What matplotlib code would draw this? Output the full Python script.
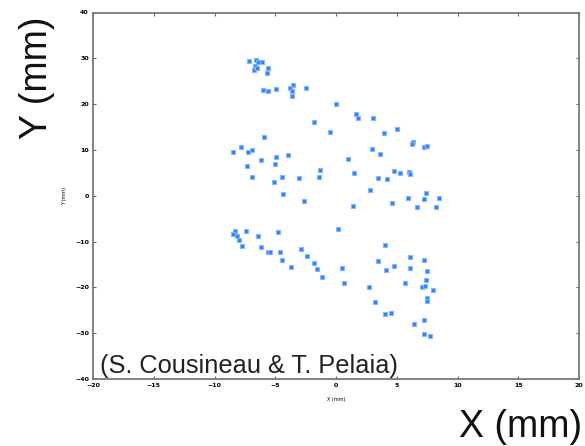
import numpy as np
import matplotlib
matplotlib.use("Agg")
import matplotlib.pyplot as plt

# particle positions (mm)
x_pos = [-7.14, -6.58, -6.40, -6.12, -6.67, -6.72, -6.53, -5.60, -5.70, -5.98,
         -5.57, -4.96, -3.54, -3.79, -3.62, -3.65, -2.49, 0.04, 1.65, 1.77,
         3.02, -1.79, -0.49, 3.95, 4.98, 6.36, 6.28, 7.24, 7.47, 2.94,
         1.01, 3.62,
         -5.90, -8.45, -7.82, -7.22, -6.94, -6.20, -4.94, -5.00, -3.93, -7.35,
         -6.89, -5.14, -4.47, -4.39, -3.05, -1.32, -1.37, 1.52, 4.80, 5.27,
         6.01, 6.09, 3.48, 4.22, 2.80, -2.62, 1.37, 4.65, 5.93, 6.69,
         7.24, 7.38, 8.23, 8.50,
         -8.31, -8.45, -8.17, -7.41, -7.97, -7.74, -6.44, -4.77, -6.17, -5.62,
         -5.47, -4.61, -4.47, -3.74, -2.92, -2.40, -1.79, -1.55, -1.15, 0.19,
         0.47, 0.67, 2.72, 3.21, 4.03, 3.43, 4.12, 4.79, 6.09, 6.09,
         7.27, 7.51, 7.39, 7.08, 7.35, 7.97, 5.66, 7.47, 7.49, 4.03,
         4.50, 6.38, 7.27, 7.26, 7.76]
y_pos = [29.5, 29.7, 29.2, 29.1, 28.4, 27.4, 27.9, 27.9, 26.7, 23.1,
         22.8, 23.3, 24.2, 23.6, 22.8, 21.7, 23.5, 20.0, 17.9, 17.0,
         17.0, 16.2, 14.0, 13.8, 14.6, 11.7, 11.4, 10.6, 10.8, 10.2,
         8.0, 9.1,
         12.9, 9.6, 10.6, 9.5, 9.9, 7.9, 8.5, 7.0, 8.8, 6.6,
         4.2, 3.0, 4.2, 0.4, 3.8, 5.6, 4.2, 5.0, 5.5, 5.0,
         5.2, 4.7, 3.8, 3.6, 1.2, -1.2, -2.2, -1.6, -0.5, -2.4,
         -0.7, 0.7, -2.5, -0.5,
         -7.8, -8.3, -8.7, -7.8, -9.7, -10.9, -8.8, -8.0, -11.1, -12.3,
         -12.3, -12.3, -14.0, -15.6, -11.6, -13.1, -14.6, -15.9, -17.8, -7.3,
         -15.7, -19.1, -19.9, -23.3, -10.7, -14.2, -16.2, -15.4, -13.3, -15.7,
         -14.1, -16.4, -18.4, -19.9, -19.7, -20.5, -19.0, -22.3, -22.9, -25.9,
         -25.7, -27.9, -27.1, -30.1, -30.6]

x_ticks = [-20, -15, -10, -5, 0, 5, 10, 15, 20]
y_ticks = [-40, -30, -20, -10, 0, 10, 20, 30, 40]

fig = plt.figure(figsize=(5.85, 4.46), dpi=100)
ax = fig.add_axes([93 / 585, 1 - 379 / 446, 486 / 585, 366.5 / 446])

ax.plot(x_pos, y_pos, ls="none", marker="s", ms=3.2, color="#2f7fff",
        mec="#86b8ff", mew=0.8)

ax.set_xlim(-20, 20)
ax.set_ylim(-40, 40)
ax.set_xticks(x_ticks)
ax.set_yticks(y_ticks)
ax.tick_params(direction="in", length=2.5, width=0.8, color="#666666",
               top=True, right=True, labelsize=4.5, pad=3)
for lab in ax.get_xticklabels() + ax.get_yticklabels():
    lab.set_fontweight("bold")
for sp in ax.spines.values():
    sp.set_color("#7a7a7a")
    sp.set_linewidth(1.3)

ax.set_xlabel("X (mm)", fontsize=3.5, labelpad=6)
ax.set_ylabel("Y (mm)", fontsize=3.5, labelpad=6)

ax.text(-19.4, -38.6, "(S. Cousineau & T. Pelaia)", fontsize=18.3,
        family="Liberation Sans", color="#222222", ha="left", va="baseline")

# large axis captions
fig.text(582 / 585, 1 - 437 / 446, "X (mm)", fontsize=27, family="Liberation Sans",
         ha="right", va="baseline", color="#111111")
fig.text(37 / 585, 1 - 78 / 446, "Y (mm)", fontsize=27, family="Liberation Sans",
         ha="center", va="center", rotation=90, color="#111111")

fig.savefig("out.png", dpi=100)
